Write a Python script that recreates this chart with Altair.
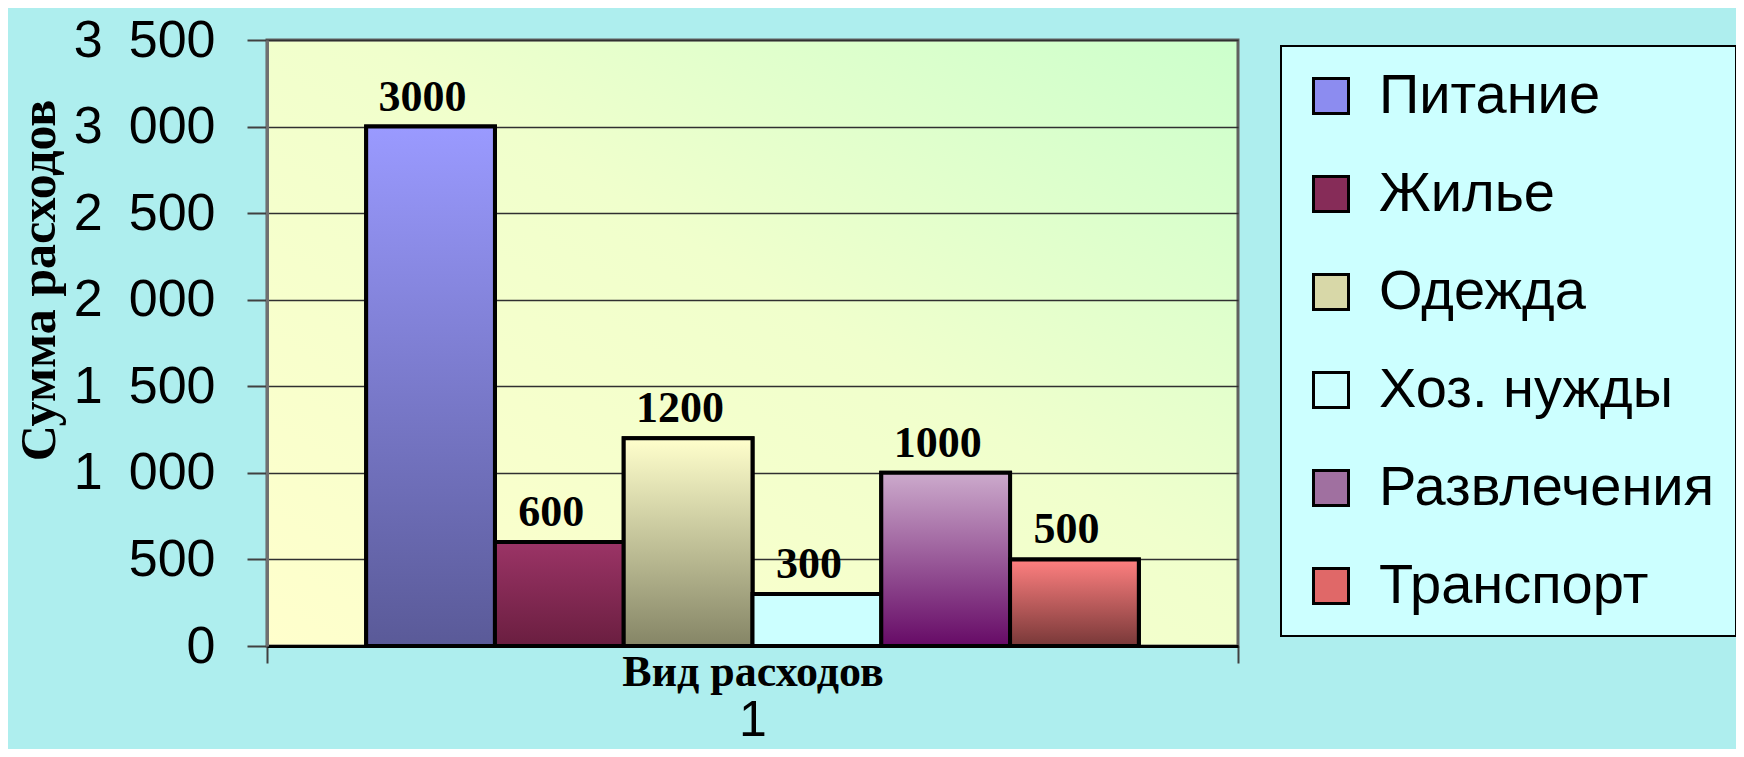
import altair as alt
import pandas as pd

# ---- data ----
categories = ["Питание", "Жилье", "Одежда", "Хоз. нужды", "Развлечения", "Транспорт"]
values = [3000, 600, 1200, 300, 1000, 500]
group_label = "1"
y_ticks = [0, 500, 1000, 1500, 2000, 2500, 3000, 3500]

# ---- styles ----
legend_colors = ["#8c8cf0", "#862c58", "#d8d8a8", "#ccffff", "#a070a0", "#e06868"]
top_colors = ["#9a9aff", "#9b3466", "#ffffcc", "#ccffff", "#ccaacc", "#ff8080"]
bottom_colors = ["#5a5a98", "#6a1e40", "#858566", "#ccffff", "#660a66", "#783838"]

df = pd.DataFrame({"grp": [group_label] * len(categories), "cat": categories, "value": values})

x_enc = alt.X(
    "grp:N",
    title="Вид расходов",
    scale=alt.Scale(paddingInner=0, paddingOuter=0),
    axis=alt.Axis(
        labelAngle=0, labelFont="Liberation Sans", labelFontSize=50, labelColor="black",
        labelPadding=32, tickBand="extent", tickSize=17, tickColor="#404040", tickWidth=2,
        domainColor="black", domainWidth=3,
        titleFont="Liberation Serif", titleFontWeight="bold", titleFontSize=44,
        titleColor="black", titleY=39, titleBaseline="alphabetic",
    ),
)
x_off = alt.XOffset(
    "cat:N", sort=categories,
    scale=alt.Scale(domain=categories, paddingInner=0, paddingOuter=0.77),
)
y_enc = alt.Y(
    "value:Q",
    title="Сумма расходов",
    scale=alt.Scale(domain=[0, 3500], nice=False),
    axis=alt.Axis(
        values=y_ticks,
        labelExpr="replace(format(datum.value, ','), ',', '\u2002')",
        labelFont="Liberation Sans", labelFontSize=52, labelColor="black", labelPadding=32,
        tickSize=20, tickColor="#404040", tickWidth=2,
        grid=True, gridColor="#303030", gridWidth=1.5,
        domainColor="#707070", domainWidth=3,
        titleFont="Liberation Serif", titleFontWeight="bold", titleFontSize=50,
        titleColor="black", titleAngle=270, titleX=-213, titleY=240,
        titleAlign="center", titleBaseline="alphabetic",
    ),
)

base = alt.Chart(df).encode(x=x_enc, xOffset=x_off, y=y_enc)

legend_bars = base.mark_bar(stroke="black", strokeWidth=4).encode(
    color=alt.Color(
        "cat:N", sort=categories,
        scale=alt.Scale(domain=categories, range=legend_colors),
        legend=alt.Legend(
            title=None, orient="none", legendX=1014, legendY=6,
            labelFont="Liberation Sans", labelFontSize=56, labelColor="black", labelLimit=600,
            labelOffset=20, symbolType="square", symbolSize=1225, symbolStrokeColor="black",
            symbolStrokeWidth=3, symbolOpacity=1, rowPadding=42, padding=22,
            fillColor="#ccffff", strokeColor="black",
        ),
    )
)

grad_layers = []
for c, t, b in zip(categories, top_colors, bottom_colors):
    grad = alt.LinearGradient(
        gradient="linear", x1=0, x2=0, y1=0, y2=1,
        stops=[alt.GradientStop(color=t, offset=0), alt.GradientStop(color=b, offset=1)],
    )
    grad_layers.append(
        base.transform_filter(alt.datum.cat == c).mark_bar(fill=grad, stroke="black", strokeWidth=4)
    )

labels = base.mark_text(
    font="Liberation Serif", fontWeight="bold", fontSize=44, color="black",
    baseline="alphabetic", dy=-16, dx=-8,
).encode(text="value:Q")

chart = (
    alt.layer(legend_bars, *grad_layers, labels)
    .properties(
        width=971, height=606,
        padding={"left": 259, "top": 32, "right": 498, "bottom": 103},
        autosize=alt.AutoSizeParams(type="none"),
        background="#aeeeee",
    )
    .configure_view(
        stroke="#606060", strokeWidth=3,
        fill={"expr": "{gradient: 'linear', x1: 0, y1: 1, x2: 1, y2: 0, stops: [{offset: 0, color: '#ffffcc'}, {offset: 0.55, color: '#f0ffcc'}, {offset: 1, color: '#ccffcc'}]}"},
    )
    .configure_legend(strokeWidth=2, cornerRadius=0)
)

chart.save("out.html", embed_options={"renderer": "svg", "actions": False})
